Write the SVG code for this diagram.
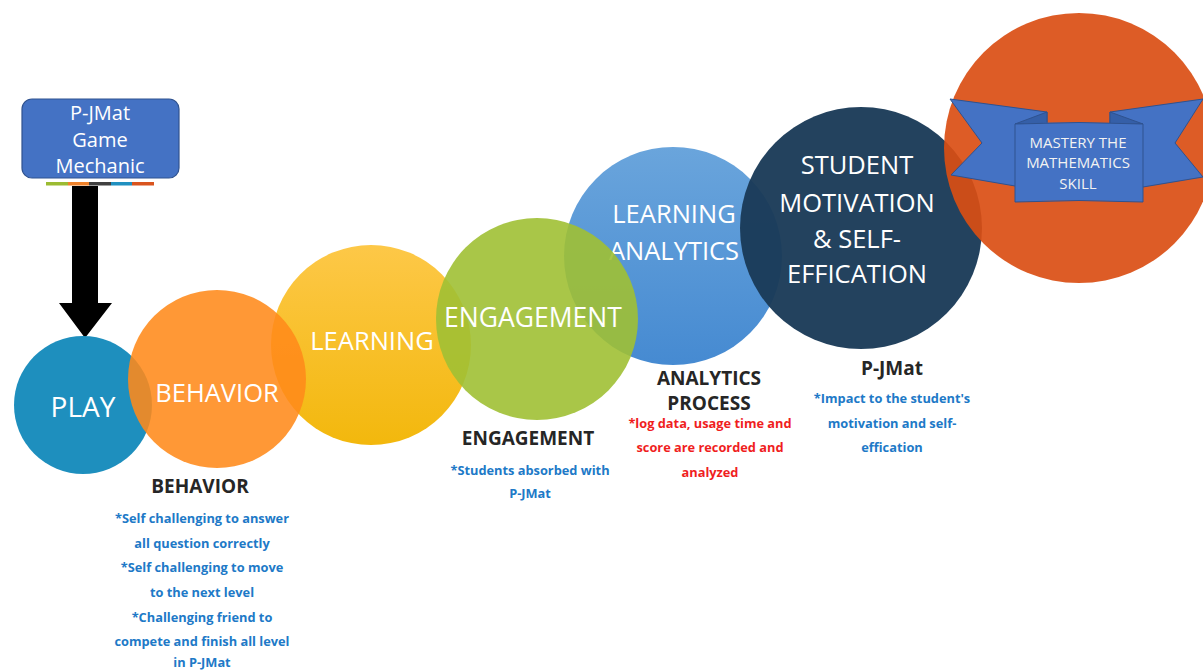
<svg xmlns="http://www.w3.org/2000/svg" width="1203" height="672" viewBox="0 0 1203 672">
<defs>
<linearGradient id="gLearn" x1="0" y1="0" x2="0" y2="1"><stop offset="0" stop-color="#FDC53E"/><stop offset="1" stop-color="#F2B400"/></linearGradient>
<linearGradient id="gAnal" x1="0" y1="0" x2="0" y2="1"><stop offset="0" stop-color="#62A0DA"/><stop offset="1" stop-color="#3C84CF"/></linearGradient>
<style>
.ct{font-family:"Open Sans","Liberation Sans",sans-serif;font-size:25.5px;fill:#FFFFFF;text-anchor:middle}
.hd{font-family:"Open Sans","Liberation Sans",sans-serif;font-size:19px;font-weight:bold;fill:#262626;text-anchor:middle}
.bl{font-family:"Open Sans","Liberation Sans",sans-serif;font-size:12.8px;font-weight:bold;fill:#2079C7;text-anchor:middle}
.rd{font-family:"Open Sans","Liberation Sans",sans-serif;font-size:12.8px;font-weight:bold;fill:#F01E1E;text-anchor:middle}
.bx{font-family:"Open Sans","Liberation Sans",sans-serif;font-size:20px;fill:#FFFFFF;text-anchor:middle}
.rb{font-family:"Open Sans","Liberation Sans",sans-serif;font-size:15px;fill:#F2F2F2;text-anchor:middle}
.rib{fill:#4472C4;stroke:#2F528F;stroke-width:1}
.fold{fill:#355FA8;stroke:#2F528F;stroke-width:1}
</style>
</defs>
<rect width="1203" height="672" fill="#FFFFFF"/>

<g id="node-mechanic">
<rect x="22" y="99" width="157" height="79" rx="10" fill="#4472C4" stroke="#2F528F" stroke-width="1.2"/>
<text class="bx" x="100" y="120">P-JMat</text>
<text class="bx" x="100" y="147">Game</text>
<text class="bx" x="100" y="173">Mechanic</text>
<rect x="46" y="182" width="22" height="3.5" fill="#9BBB32"/>
<rect x="68" y="182" width="21" height="3.5" fill="#F0822A"/>
<rect x="89" y="182" width="22" height="3.5" fill="#404040"/>
<rect x="111" y="182" width="21" height="3.5" fill="#2090C0"/>
<rect x="132" y="182" width="22" height="3.5" fill="#D9541E"/>
</g>

<g id="connectors">
<path d="M72,186 L98,186 L98,303 L112,303 L85,338 L59,303 L72,303 Z" fill="#000000"/>
</g>

<g id="node-play">
<circle cx="83" cy="405" r="69" fill="#1E8FBE"/>
<text class="ct" x="83" y="417" style="font-size:28px">PLAY</text>
</g>

<g id="node-learning">
<circle cx="371" cy="345" r="100" fill="url(#gLearn)" opacity="0.95"/>
<text class="ct" x="372" y="350">LEARNING</text>
</g>

<g id="node-behavior">
<circle cx="217" cy="379" r="89" fill="#FF8A1A" opacity="0.88"/>
<text class="ct" x="217" y="402">BEHAVIOR</text>
</g>

<g id="node-analytics">
<circle cx="673" cy="256" r="109" fill="url(#gAnal)" opacity="0.95"/>
<text class="ct" x="674" y="223">LEARNING</text>
<text class="ct" x="674" y="260">ANALYTICS</text>
</g>

<g id="node-engagement">
<circle cx="537" cy="319" r="101" fill="#A0C034" opacity="0.9"/>
<text class="ct" x="533" y="327" style="font-size:26.5px">ENGAGEMENT</text>
</g>

<g id="node-motivation">
<circle cx="861" cy="228" r="121" fill="#1A3A57" opacity="0.96"/>
<text class="ct" x="857" y="174">STUDENT</text>
<text class="ct" x="857" y="212">MOTIVATION</text>
<text class="ct" x="857" y="248">&amp; SELF-</text>
<text class="ct" x="857" y="283">EFFICATION</text>
</g>

<g id="node-mastery">
<circle cx="1079" cy="148" r="135" fill="#DA4E14" opacity="0.92"/>
<polygon class="rib" points="950,99 1047,112 1047,186 1015,186 951,175 982,143"/>
<polygon class="rib" points="1203,99 1110,112 1110,186 1143,187 1203,177 1175,143"/>
<polygon class="fold" points="1047,112 1047,124 1015,124"/>
<polygon class="fold" points="1110,112 1110,124 1143,124"/>
<path class="rib" d="M1015,124 Q1079,121 1143,124 L1143,202 Q1079,199 1015,202 Z"/>
<text class="rb" x="1078" y="148">MASTERY THE</text>
<text class="rb" x="1078" y="168">MATHEMATICS</text>
<text class="rb" x="1078" y="189">SKILL</text>
</g>

<g id="label-behavior">
<text class="hd" x="200" y="493">BEHAVIOR</text>
<text class="bl" x="202" y="523">*Self challenging to answer</text>
<text class="bl" x="202" y="547.5">all question correctly</text>
<text class="bl" x="202" y="572">*Self challenging to move</text>
<text class="bl" x="202" y="597">to the next level</text>
<text class="bl" x="202" y="621.5">*Challenging friend to</text>
<text class="bl" x="202" y="645.5">compete and finish all level</text>
<text class="bl" x="202" y="667">in P-JMat</text>
</g>

<g id="label-engagement">
<text class="hd" x="528" y="445">ENGAGEMENT</text>
<text class="bl" x="530" y="475">*Students absorbed with</text>
<text class="bl" x="530" y="498">P-JMat</text>
</g>

<g id="label-analytics">
<text class="hd" x="709" y="385">ANALYTICS</text>
<text class="hd" x="709" y="410">PROCESS</text>
<text class="rd" x="710" y="428">*log data, usage time and</text>
<text class="rd" x="710" y="452">score are recorded and</text>
<text class="rd" x="710" y="477">analyzed</text>
</g>

<g id="label-motivation">
<text class="hd" x="892" y="375">P-JMat</text>
<text class="bl" x="892" y="403">*Impact to the student's</text>
<text class="bl" x="892" y="428">motivation and  self-</text>
<text class="bl" x="892" y="452">effication</text>
</g>
</svg>
